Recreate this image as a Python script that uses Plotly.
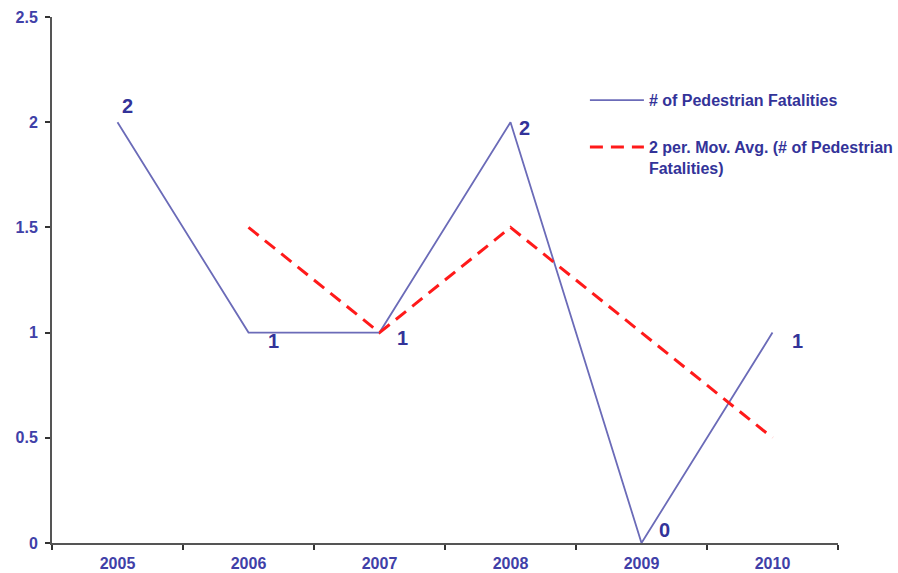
import plotly.graph_objects as go

years = ["2005", "2006", "2007", "2008", "2009", "2010"]
fatalities = [2, 1, 1, 2, 0, 1]
mov_avg_years = ["2006", "2007", "2008", "2009", "2010"]
mov_avg = [1.5, 1.0, 1.5, 1.0, 0.5]
y_ticks = [0, 0.5, 1, 1.5, 2, 2.5]
y_tick_labels = ["0", "0.5", "1", "1.5", "2", "2.5"]

# label offsets (pixels) per point
label_shift = [(10, 16), (25, -8), (23, -5), (14, -6), (23, 13), (25, -8)]

navy = "#333399"
tick_col = "#4040a8"
line_blue = "#6b6bb8"
font_family = "Liberation Sans, Arial, sans-serif"

fig = go.Figure()
fig.add_trace(go.Scatter(
    x=years, y=fatalities, mode="lines",
    line=dict(color=line_blue, width=1.8),
    name="# of Pedestrian Fatalities",
    legendgroup="a",
))
fig.add_trace(go.Scatter(
    x=mov_avg_years, y=mov_avg, mode="lines",
    line=dict(color="#ff1a1a", width=3, dash="13px,8px"),
    name="2 per. Mov. Avg. (# of Pedestrian<br>Fatalities)",
    legendgroup="b",
))

annotations = []
for i, (v, (dx, dy)) in enumerate(zip(fatalities, label_shift)):
    annotations.append(dict(
        x=i, y=v, xref="x", yref="y", text="<b>%d</b>" % v, showarrow=False,
        xshift=dx, yshift=dy,
        font=dict(family=font_family, size=20, color=navy),
    ))

fig.update_layout(
    annotations=annotations,
    width=898, height=573,
    margin=dict(l=52, r=60, t=17, b=30, autoexpand=False),
    plot_bgcolor="white", paper_bgcolor="white",
    font=dict(family=font_family, size=15, color=navy),
    showlegend=True,
    legend=dict(
        x=0.678, y=0.874, xanchor="left", yanchor="top",
        font=dict(family=font_family, size=16, color=navy, weight="bold"),
        tracegroupgap=23, valign="top", itemwidth=54,
        bgcolor="rgba(0,0,0,0)",
    ),
    xaxis=dict(
        type="category", range=[-0.5, 5.5],
        showline=True, linecolor="#555555", linewidth=2,
        ticks="outside", ticklen=5, tickcolor="#333333", tickwidth=1.5,
        tickson="boundaries", showgrid=False, zeroline=False,
        ticklabelstandoff=5, automargin=False,
        tickfont=dict(family=font_family, size=16, color=tick_col, weight="bold"),
    ),
    yaxis=dict(
        range=[0, 2.5], tickvals=y_ticks, ticktext=y_tick_labels,
        showline=True, linecolor="#555555", linewidth=2,
        ticks="outside", ticklen=5, tickcolor="#333333", tickwidth=1.5,
        showgrid=False, zeroline=False,
        ticklabelstandoff=4, automargin=False,
        tickfont=dict(family=font_family, size=16, color=tick_col, weight="bold"),
    ),
)

fig.write_html(
    "out.html",
    config={"displayModeBar": False},
    post_script="document.body.style.margin='0';document.body.style.overflow='hidden';",
)
